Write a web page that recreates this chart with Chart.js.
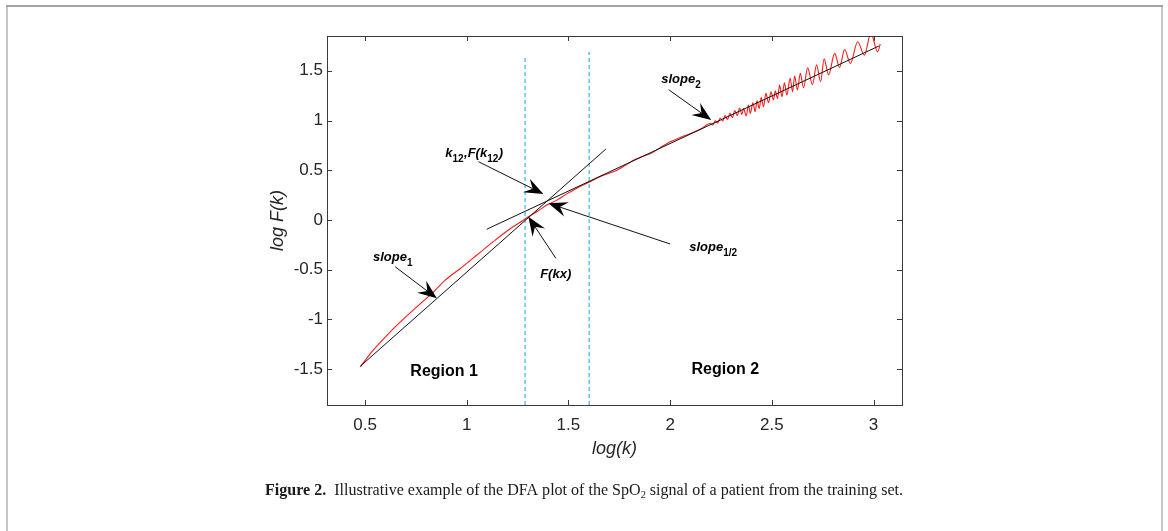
<!DOCTYPE html>
<html>
<head>
<meta charset="utf-8">
<script src="https://cdn.jsdelivr.net/npm/chart.js@4.4.0/dist/chart.umd.min.js"></script>
<style>
  html, body { margin: 0; padding: 0; background: #fff; }
  #wrap { width: 1168px; height: 531px; }
</style>
</head>
<body>
<div id="wrap"><canvas id="dfaChart" width="1168" height="531"></canvas></div>
<script>
// DFA curve, log(k) vs log F(k)
const logK = [0.477, 0.525, 0.598, 0.689, 0.770, 0.836, 0.894, 0.967, 1.05, 1.13, 1.205, 1.28,
  1.303, 1.35, 1.394, 1.443, 1.49, 1.541, 1.607, 1.66, 1.738, 1.78, 1.82, 1.86, 1.906, 1.95,
  2.0, 2.05, 2.1, 2.15, 2.197,
  2.21, 2.222, 2.234, 2.246, 2.258, 2.27, 2.282, 2.294, 2.306, 2.318, 2.33, 2.342, 2.353,
  2.361, 2.374, 2.385, 2.394, 2.407, 2.418, 2.427, 2.438, 2.448, 2.459, 2.471, 2.484, 2.496,
  2.508, 2.517, 2.528, 2.538, 2.55, 2.562, 2.574, 2.59, 2.602, 2.612, 2.626, 2.64, 2.656,
  2.676, 2.70, 2.72, 2.74, 2.757, 2.779, 2.809, 2.833, 2.858, 2.886, 2.922, 2.955, 2.987, 3.02, 3.033];
const logF = [-1.477, -1.345, -1.18, -0.995, -0.845, -0.725, -0.605, -0.49, -0.352, -0.218, -0.10, 0.0,
  0.033, 0.09, 0.15, 0.20, 0.26, 0.32, 0.385, 0.44, 0.50, 0.55, 0.60, 0.635, 0.67, 0.725,
  0.786, 0.83, 0.87, 0.915, 0.97,
  0.955, 0.998, 0.975, 1.025, 0.995, 1.05, 1.01, 1.075, 1.03, 1.10, 1.05, 1.125, 1.06,
  1.122, 1.045, 1.156, 1.072, 1.179, 1.089, 1.199, 1.122, 1.233, 1.139, 1.273, 1.179, 1.29,
  1.206, 1.30, 1.223, 1.357, 1.239, 1.38, 1.256, 1.424, 1.29, 1.447, 1.307, 1.474, 1.33,
  1.53, 1.36, 1.56, 1.39, 1.62, 1.46, 1.675, 1.534, 1.715, 1.575, 1.792, 1.658, 1.88, 1.69, 1.77];

// fitted lines (end points)
const fit1X = [0.477, 1.684];
const fit1Y = [-1.47, 0.713];
const fit2X = [1.098, 3.026];
const fit2Y = [-0.093, 1.749];

// region borders
const borderX = [1.287, 1.602];
const borderTop = [1.64, 1.69];

const xTicks = [0.5, 1, 1.5, 2, 2.5, 3];
const yTicks = [-1.5, -1, -0.5, 0, 0.5, 1, 1.5];

const X_MIN = 0.313, X_MAX = 3.14, Y_MIN = -1.86, Y_MAX = 1.85;

// annotations, in data units
const arrows = [
  { from: [1.993, 1.31], to: [2.202, 1.005] },
  { from: [1.058, 0.586], to: [1.377, 0.261] },
  { from: [2.0, -0.241], to: [1.402, 0.168] },
  { from: [1.438, -0.385], to: [1.303, 0.033] },
  { from: [0.648, -0.47], to: [0.853, -0.787] }
];
const labels = [
  { at: [1.956, 1.377], parts: [['slope'], ['2', 1]] },
  { at: [0.894, 0.633], parts: [['k'], ['12', 1], [',F('], ['k'], ['12', 1], [')']] },
  { at: [2.094, -0.312], parts: [['slope'], ['1/2', 1]] },
  { at: [1.361, -0.583], parts: [['F('], ['kx'], [')']] },
  { at: [0.539, -0.409], parts: [['slope'], ['1', 1]] }
];
const regions = [
  { at: [0.889, -1.568], text: 'Region 1' },
  { at: [2.271, -1.548], text: 'Region 2' }
];

const SANS = '"Liberation Sans", Arial, Helvetica, sans-serif';
const SERIF = '"Liberation Serif", "Times New Roman", serif';

function line(xs, ys) {
  return xs.map((x, i) => ({ x: x, y: ys[i] }));
}

function drawArrow(ctx, x0, y0, x1, y1) {
  const a = Math.atan2(y1 - y0, x1 - x0);
  const L = 19, W = 7.5, N = 12;
  ctx.beginPath();
  ctx.moveTo(x0, y0);
  ctx.lineTo(x1 - N * Math.cos(a), y1 - N * Math.sin(a));
  ctx.stroke();
  ctx.save();
  ctx.translate(x1, y1);
  ctx.rotate(a);
  ctx.beginPath();
  ctx.moveTo(0, 0);
  ctx.lineTo(-L, -W);
  ctx.lineTo(-N, 0);
  ctx.lineTo(-L, W);
  ctx.closePath();
  ctx.fill();
  ctx.restore();
}

const extras = {
  id: 'extras',
  afterDraw(chart) {
    const ctx = chart.ctx;
    const xs = chart.scales.x, ys = chart.scales.y;
    const a = chart.chartArea;
    ctx.save();

    // axes box with inward ticks
    ctx.strokeStyle = '#3a3a3a';
    ctx.lineWidth = 1;
    ctx.strokeRect(Math.round(a.left) + 0.5, Math.round(a.top) + 0.5,
      Math.round(a.right - a.left), Math.round(a.bottom - a.top));
    ctx.beginPath();
    xTicks.forEach(v => {
      const px = Math.round(xs.getPixelForValue(v)) + 0.5;
      ctx.moveTo(px, a.bottom); ctx.lineTo(px, a.bottom - 5);
      ctx.moveTo(px, a.top); ctx.lineTo(px, a.top + 5);
    });
    yTicks.forEach(v => {
      const py = Math.round(ys.getPixelForValue(v)) + 0.5;
      ctx.moveTo(a.left, py); ctx.lineTo(a.left + 5, py);
      ctx.moveTo(a.right, py); ctx.lineTo(a.right - 5, py);
    });
    ctx.stroke();

    // arrows
    ctx.strokeStyle = '#111';
    ctx.fillStyle = '#000';
    ctx.lineWidth = 1;
    arrows.forEach(ar => {
      drawArrow(ctx, xs.getPixelForValue(ar.from[0]), ys.getPixelForValue(ar.from[1]),
        xs.getPixelForValue(ar.to[0]), ys.getPixelForValue(ar.to[1]));
    });

    // labels with subscripts
    ctx.textBaseline = 'alphabetic';
    ctx.textAlign = 'left';
    labels.forEach(lb => {
      let x = xs.getPixelForValue(lb.at[0]);
      const y = ys.getPixelForValue(lb.at[1]);
      lb.parts.forEach(p => {
        const sub = !!p[1];
        ctx.font = sub ? 'bold 10px ' + SANS : 'italic bold 13px ' + SANS;
        ctx.fillText(p[0], x, y + (sub ? 5 : 0));
        x += ctx.measureText(p[0]).width + (sub ? 0.5 : 0);
      });
    });

    ctx.font = 'bold 16px ' + SANS;
    ctx.textAlign = 'center';
    regions.forEach(r => {
      ctx.fillText(r.text, xs.getPixelForValue(r.at[0]), ys.getPixelForValue(r.at[1]));
    });

    // caption, condensed serif
    const cap = [
      ['Figure 2.', 'bold 17px ' + SERIF, 0],
      ['  Illustrative example of the DFA plot of the SpO', '17px ' + SERIF, 0],
      ['2', '11px ' + SERIF, 3],
      [' signal of a patient from the training set.', '17px ' + SERIF, 0]
    ];
    let total = 0;
    cap.forEach(c => { ctx.font = c[1]; total += ctx.measureText(c[0]).width; });
    const capLeft = 265, capRight = 903;
    const sx = (capRight - capLeft) / total;
    ctx.save();
    ctx.translate(capLeft, 495);
    ctx.scale(sx, 1);
    ctx.textAlign = 'left';
    ctx.fillStyle = '#1a1a1a';
    let cx = 0;
    cap.forEach(c => {
      ctx.font = c[1];
      ctx.fillText(c[0], cx, c[2]);
      cx += ctx.measureText(c[0]).width;
    });
    ctx.restore();

    // page frame
    ctx.lineWidth = 2;
    ctx.strokeStyle = '#c6c6c6';
    ctx.beginPath();
    ctx.moveTo(7, 6); ctx.lineTo(7, 531);
    ctx.moveTo(1162, 6); ctx.lineTo(1162, 531);
    ctx.stroke();
    ctx.strokeStyle = '#a2a2a2';
    ctx.beginPath();
    ctx.moveTo(6, 6); ctx.lineTo(1163, 6);
    ctx.stroke();

    ctx.restore();
  }
};

const tickFont = { family: SANS, size: 17 };

new Chart(document.getElementById('dfaChart').getContext('2d'), {
  type: 'line',
  data: {
    datasets: [
      { data: line(fit1X, fit1Y), borderColor: '#111', borderWidth: 1, pointRadius: 0 },
      { data: line(fit2X, fit2Y), borderColor: '#111', borderWidth: 1, pointRadius: 0 },
      { data: line(logK, logF), borderColor: '#ff1a1a', borderWidth: 1.1, pointRadius: 0,
        cubicInterpolationMode: 'monotone' },
      { data: [{ x: borderX[0], y: Y_MIN }, { x: borderX[0], y: borderTop[0] }],
        borderColor: '#5cc4ee', borderWidth: 1.5, borderDash: [4, 3], pointRadius: 0 },
      { data: [{ x: borderX[1], y: Y_MIN }, { x: borderX[1], y: borderTop[1] }],
        borderColor: '#5cc4ee', borderWidth: 1.5, borderDash: [4, 3], pointRadius: 0 }
    ]
  },
  options: {
    responsive: false,
    animation: false,
    devicePixelRatio: 1,
    layout: { padding: { left: 0, top: 36, right: 266, bottom: 0 } },
    plugins: { legend: { display: false }, tooltip: { enabled: false } },
    scales: {
      x: {
        type: 'linear', min: X_MIN, max: X_MAX,
        grid: { display: false, drawTicks: false },
        border: { display: false },
        afterBuildTicks: s => { s.ticks = xTicks.map(v => ({ value: v })); },
        afterFit: s => { s.height = 126; },
        ticks: { color: '#262626', font: tickFont, padding: 10, maxRotation: 0,
          callback: v => String(v) },
        title: { display: true, text: 'log(k)', color: '#262626',
          font: { family: SANS, size: 18, style: 'italic' }, padding: { bottom: 71 } }
      },
      y: {
        type: 'linear', min: Y_MIN, max: Y_MAX,
        grid: { display: false, drawTicks: false },
        border: { display: false },
        afterBuildTicks: s => { s.ticks = yTicks.map(v => ({ value: v })); },
        afterFit: s => { s.width = 327; },
        ticks: { color: '#262626', font: tickFont, padding: 4, callback: v => String(v) },
        title: { display: true, text: 'log F(k)', color: '#262626',
          font: { family: SANS, size: 18, style: 'italic' }, padding: { top: 267 } }
      }
    }
  },
  plugins: [extras]
});
</script>
</body>
</html>
